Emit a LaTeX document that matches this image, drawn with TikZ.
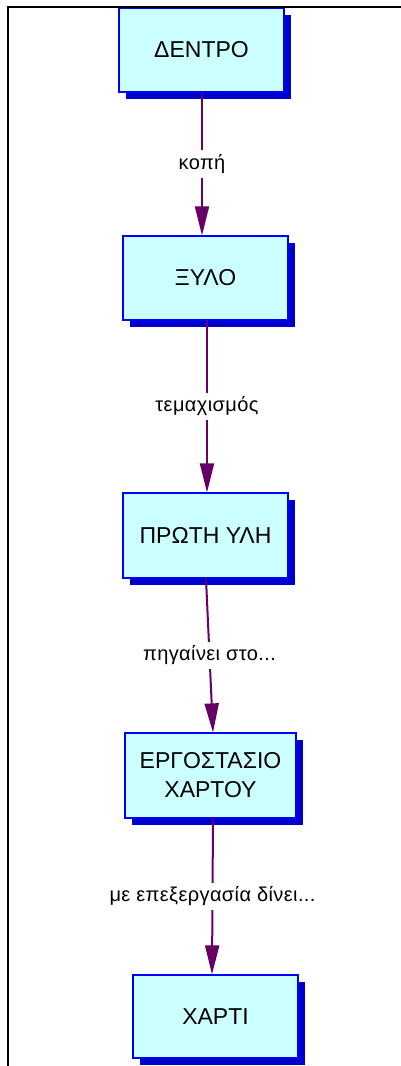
\documentclass[tikz,border=0pt]{standalone}
\usepackage{fontspec}
\setmainfont{Liberation Sans}
\usetikzlibrary{arrows.meta,shadows}
\definecolor{boxfill}{HTML}{CCFFFF}
\definecolor{boxline}{HTML}{0000FF}
\definecolor{boxshadow}{HTML}{0000CC}
\definecolor{arrowcol}{HTML}{660066}
\tikzset{
  stagebox/.style={draw=boxline, line width=1.2pt, fill=boxfill, minimum width=165pt, minimum height=84pt,
    inner sep=0pt, align=center, font=\fontsize{23}{29}\selectfont,
    drop shadow={shadow xshift=7pt, shadow yshift=-7pt, fill=boxshadow, opacity=1, draw=none}},
  flowarrow/.style={draw=arrowcol, line width=2pt, -{Triangle[width=14pt,length=29pt]}},
  steplabel/.style={fill=white, inner sep=4pt, font=\fontsize{20}{22}\selectfont\addfontfeature{LetterSpace=2}, text=black}
}
\begin{document}
\begin{tikzpicture}[x=1pt,y=-1pt]
\useasboundingbox (0,0) rectangle (401,1066);
\fill[white] (0,0) rectangle (401,1066);
% frame
\draw[line width=2.4pt] (8,1066) -- (8,7) -- (401,7);
% boxes
\node[stagebox] (b1) at (201.5,50) {ΔΕΝΤΡΟ};
\node[stagebox] (b2) at (205.5,278) {ΞΥΛΟ};
\node[stagebox, minimum height=85pt] (b3) at (205.5,535.5) {ΠΡΩΤΗ ΥΛΗ};
\node[stagebox, minimum width=171pt, minimum height=85pt] (b4) at (210.5,775.5) {ΕΡΓΟΣΤΑΣΙΟ\\ΧΑΡΤΟΥ};
\node[stagebox, minimum height=83pt] (b5) at (215.5,1016.5) {ΧΑΡΤΙ};
% redraw frame top over box 1
\draw[line width=2.4pt] (8,7) -- (401,7);
% connector end points
\coordinate (s1) at ([xshift=0.5pt]b1.south);
\coordinate (e1) at ([xshift=-3.5pt]b2.north);
\coordinate (s2) at ([xshift=1.5pt]b2.south);
\coordinate (e2) at ([xshift=1.5pt]b3.north);
\coordinate (s3) at ([xshift=0.5pt]b3.south);
\coordinate (e3) at ([xshift=2.5pt]b4.north);
\coordinate (s4) at ([xshift=2.5pt]b4.south);
\coordinate (e4) at ([xshift=-3.5pt]b5.north);
% connectors
\draw[flowarrow] (s1) -- node[steplabel] {κοπή} (e1);
\draw[flowarrow] (s2) -- node[steplabel] {τεμαχισμός} (e2);
\draw[flowarrow] (s3) -- node[steplabel] {πηγαίνει στο...} (e3);
\draw[flowarrow] (s4) -- node[steplabel] {με επεξεργασία δίνει...} (e4);
\end{tikzpicture}
\end{document}
